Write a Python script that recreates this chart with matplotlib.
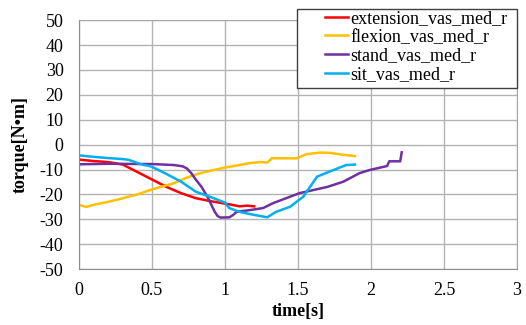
import matplotlib.pyplot as plt
import numpy as np
from matplotlib.patches import Rectangle

plt.rcParams['font.family'] = ['Liberation Serif', 'DejaVu Serif']
plt.rcParams['axes.unicode_minus'] = False

# torque traces (time [s], torque [N*m])
ext_t = [0, 0.05, 0.1, 0.2, 0.3, 0.35, 0.4, 0.5, 0.6, 0.7, 0.8, 0.9, 1.0, 1.05, 1.1, 1.15, 1.2]
ext_y = [-6, -6.3, -6.6, -7, -8, -9.5, -11, -14, -17, -19.5, -21.5, -22.7, -23.7, -24.2, -24.8, -24.5, -24.8]

flex_t = [0, 0.05, 0.1, 0.2, 0.27, 0.4, 0.5, 0.65, 0.75, 0.83, 0.9, 1.0, 1.1, 1.17, 1.25, 1.29, 1.32,
          1.49, 1.56, 1.65, 1.72, 1.8, 1.89]
flex_y = [-24.2, -25, -24.2, -23, -22, -20, -18, -15.5, -13, -11.5, -10.5, -9.2, -8.2, -7.4, -7, -7.2, -5.5,
          -5.5, -3.8, -3.2, -3.3, -4, -4.6]

stand_t = [0, 0.2, 0.5, 0.65, 0.71, 0.74, 0.77, 0.80, 0.84, 0.885, 0.93, 0.95, 0.97, 1.03, 1.055, 1.08, 1.17,
           1.26, 1.33, 1.42, 1.51, 1.7, 1.81, 1.92, 1.99, 2.11, 2.125, 2.2, 2.21]
stand_y = [-7.9, -7.7, -7.8, -8.2, -8.7, -9.6, -11.5, -14, -17, -21.5, -27, -28.7, -29.3, -29.2, -28.3, -27,
           -26.3, -25.5, -23.5, -21.5, -19.5, -17, -14.9, -11.5, -10.2, -8.6, -6.7, -6.7, -3.1]

sit_t = [0, 0.1, 0.2, 0.3, 0.34, 0.38, 0.42, 0.5, 0.6, 0.7, 0.8, 0.9, 1.0, 1.03, 1.1, 1.17, 1.29, 1.35,
         1.445, 1.535, 1.6, 1.63, 1.7, 1.83, 1.89]
sit_y = [-4.3, -4.9, -5.4, -5.8, -6.1, -6.9, -7.8, -8.9, -11.8, -14.9, -18.9, -21, -23.3, -25.5, -27, -27.9,
         -29.2, -27, -25, -21, -15.5, -12.9, -11.2, -8.2, -8]

fig = plt.figure(figsize=(5.26, 3.25), dpi=100)
ax = fig.add_axes([0.150, 0.172, 0.833, 0.766])

ax.plot(ext_t, ext_y, color='#FF0000', lw=1.8, label='extension_vas_med_r')
ax.plot(flex_t, flex_y, color='#FFC000', lw=1.8, label='flexion_vas_med_r')
ax.plot(stand_t, stand_y, color='#7030A0', lw=1.8, label='stand_vas_med_r')
ax.plot(sit_t, sit_y, color='#00B0F0', lw=1.8, label='sit_vas_med_r')

ax.set_xlim(0, 3)
ax.set_ylim(-50, 50)
ax.set_xticks(np.arange(0, 3.01, 0.5))
ax.set_xticklabels(['0', '0.5', '1', '1.5', '2', '2.5', '3'])
ax.set_yticks(np.arange(-50, 51, 10))
ax.grid(color='#b3b3b3', lw=1)
ax.set_axisbelow(True)
for s in ax.spines.values():
    s.set_color('#a6a6a6')
ax.spines['left'].set_color('#8c8c8c')
ax.spines['bottom'].set_color('#8c8c8c')
ax.tick_params(length=0, labelsize=13)
ax.tick_params(axis='x', pad=9)
ax.tick_params(axis='y', pad=11)

ax.set_xlabel('time[s]', fontsize=13, fontweight='bold', labelpad=3)
ax.set_ylabel('torque[N•m]', fontsize=13, fontweight='bold', labelpad=8)

# legend box drawn separately, entries placed inside it
W, H = 526, 325
fig.patches.append(Rectangle((297 / W, 1 - 88 / H), 220 / W, 79 / H, transform=fig.transFigure,
                             facecolor='white', edgecolor='#404040', lw=1, zorder=5))
leg = fig.legend(loc='upper left', bbox_to_anchor=(325 / W, 1 - 10 / H), fontsize=13, frameon=False,
                 handlelength=1.3, handletextpad=0.1, borderpad=0, labelspacing=0.1, borderaxespad=0)
leg.set_zorder(6)

fig.savefig('out.png', dpi=100)
